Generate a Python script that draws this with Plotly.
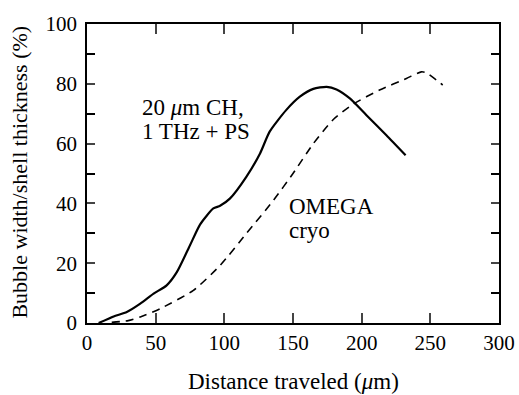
import plotly.graph_objects as go

# Solid curve: 20 um CH, 1 THz + PS
ch_x = [8.5, 19.4, 29, 38.8, 48.5, 58, 65.4, 75, 82.4, 92, 96.9, 104, 116, 126, 133, 145, 155, 164.8, 174.5, 181.7, 191.4, 203.5, 218, 232]
ch_y = [0, 2.2, 3.7, 6.5, 9.8, 12.6, 17, 26, 33, 38.3, 39.2, 41.6, 48.9, 56.7, 64, 71.2, 75.7, 78.3, 79, 78.1, 75.1, 69.5, 62.8, 56.1]

# Dashed curve: OMEGA cryo
om_x = [18, 30, 38.8, 53.3, 77.5, 97, 116, 135.7, 150, 164.8, 179, 193.8, 213, 232.6, 243.5, 247, 259]
om_y = [0.2, 0.8, 2, 4.8, 10.9, 19.3, 29.9, 41, 50, 60, 67.9, 73.2, 77.9, 81.8, 84, 83.7, 79.6]

x_ticks = [0, 50, 100, 150, 200, 250, 300]
y_ticks = [0, 20, 40, 60, 80, 100]

FONT = "Liberation Serif"
BLACK = "black"

fig = go.Figure()
fig.add_trace(go.Scatter(x=ch_x, y=ch_y, mode="lines", line=dict(color=BLACK, width=2.2, shape="spline", smoothing=0.6), showlegend=False))
fig.add_trace(go.Scatter(x=om_x, y=om_y, mode="lines", line=dict(color=BLACK, width=1.6, dash="8px,6px", shape="spline", smoothing=0.6), showlegend=False))

lab = dict(family=FONT, size=23, color=BLACK)
fig.add_annotation(x=38.5, y=72, text="20 <i>μ</i>m CH,", showarrow=False, xanchor="left", yanchor="middle", font=lab)
fig.add_annotation(x=38.5, y=64, text="1 THz + PS", showarrow=False, xanchor="left", yanchor="middle", font=lab)
fig.add_annotation(x=145.7, y=38.9, text="OMEGA", showarrow=False, xanchor="left", yanchor="middle", font=lab)
fig.add_annotation(x=145.7, y=31, text="cryo", showarrow=False, xanchor="left", yanchor="middle", font=lab)

# axis titles
fig.add_annotation(xref="paper", yref="paper", x=0.5, y=-0.195, text="Distance traveled (<i>μ</i>m)", showarrow=False,
                   xanchor="center", yanchor="middle", font=dict(family=FONT, size=23, color=BLACK))
fig.add_annotation(xref="paper", yref="paper", x=-0.163, y=0.506, text="Bubble width/shell thickness (%)", showarrow=False,
                   textangle=-90, xanchor="center", yanchor="middle", font=dict(family=FONT, size=22, color=BLACK))

fig.update_xaxes(range=[0, 300], tickvals=x_ticks, ticks="inside", ticklen=10, tickwidth=1.5, automargin=False,
                 showline=True, linecolor=BLACK, linewidth=1.5, mirror="allticks", showgrid=False, zeroline=False,
                 tickfont=dict(family=FONT, size=21, color=BLACK))
fig.update_yaxes(range=[0, 100], tickvals=y_ticks, ticks="inside", ticklen=8, tickwidth=1.5, automargin=False,
                 minor=dict(dtick=10, ticks="inside", ticklen=8, tickwidth=1.5, tickcolor=BLACK, showgrid=False),
                 showline=True, linecolor=BLACK, linewidth=1.5, mirror="allticks", showgrid=False, zeroline=False,
                 tickfont=dict(family=FONT, size=21, color=BLACK), ticklabelstandoff=4)

fig.update_layout(width=519, height=395, margin=dict(l=87, r=20, t=24, b=72),
                  plot_bgcolor="white", paper_bgcolor="white")
fig.write_html("out.html")
